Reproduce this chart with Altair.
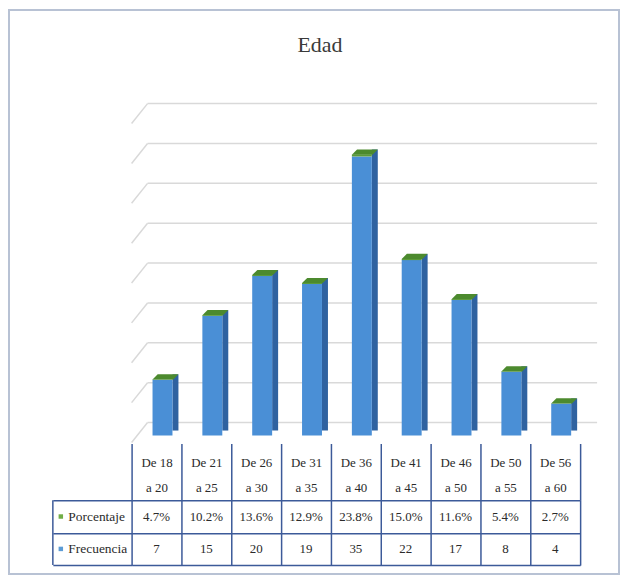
import altair as alt
import pandas as pd

categorias = ["De 18 a 20", "De 21 a 25", "De 26 a 30", "De 31 a 35", "De 36 a 40",
              "De 41 a 45", "De 46 a 50", "De 50 a 55", "De 56 a 60"]
frecuencia = [7, 15, 20, 19, 35, 22, 17, 8, 4]
porcentaje = [4.7, 10.2, 13.6, 12.9, 23.8, 15.0, 11.6, 5.4, 2.7]
filas = ["Porcentaje", "Frecuencia"]
grid_vals = [0, 5, 10, 15, 20, 25, 30, 35, 40]

BLUE = "#4A8FD6"
BLUE_SIDE = "#2F62A0"
GREEN = "#5B9B3A"
GREEN_TOP = "#4C8A2E"
LINE = "#3C5A99"
GRID = "#D9D9D9"
SERIF = "Liberation Serif"
TXT = "#2B2B2B"

df = pd.DataFrame({"cat": categorias, "frec": frecuencia, "pct": porcentaje})
df["pct_frac"] = df["pct"] / 100.0
df["top"] = df["frec"] + df["pct_frac"]

grid_df = pd.DataFrame({"v": grid_vals})

xsc = alt.Scale(domain=categorias, paddingInner=0, paddingOuter=0)
ysc = alt.Scale(domain=[0, 40], nice=False, zero=True)

x_axis = alt.Axis(orient="bottom", offset=8, domain=False, grid=False,
                  tickBand="extent", tickSize=57, tickColor=LINE, tickWidth=1.5,
                  labelExpr="[substring(datum.label, 0, 5), substring(datum.label, 6)]",
                  labelFont=SERIF, labelFontSize=13, labelColor=TXT,
                  labelPadding=-43.5, labelLineHeight=25, labelAngle=0,
                  labelBaseline="top", title=None)
X = alt.X("cat:N", scale=xsc, sort=categorias, axis=x_axis)

one = pd.DataFrame({"a": [0]})

frame = alt.Chart(one).mark_rect(fill="transparent", stroke="#B8C2D4", strokeWidth=2).encode(
    x=alt.value(-123), x2=alt.value(489), y=alt.value(-107), y2=alt.value(459))

grid_h = alt.Chart(grid_df).mark_rule(color=GRID, strokeWidth=1.5, yOffset=-13).encode(
    x=alt.value(16), x2=alt.value(467), y=alt.Y("v:Q", scale=ysc, axis=None))

grid_d = alt.Chart(grid_df).mark_rule(color=GRID, strokeWidth=1.5, yOffset=7, y2Offset=-13).encode(
    x=alt.value(0), x2=alt.value(16), y=alt.Y("v:Q", scale=ysc, axis=None), y2="v:Q")

side = alt.Chart(df).mark_bar(size=6, xOffset=19, yOffset=-5, y2Offset=-5, color=BLUE_SIDE).encode(
    x=X, y=alt.Y("top:Q", scale=ysc, axis=None), y2=alt.datum(0))

front = alt.Chart(df).mark_bar(size=20, xOffset=6, color=BLUE).encode(
    x=X, y=alt.Y("frec:Q", scale=ysc, axis=None), y2=alt.datum(0))

front_g = alt.Chart(df).mark_bar(size=20, xOffset=6, color=GREEN).encode(
    x=X, y=alt.Y("top:Q", scale=ysc, axis=None), y2="frec:Q")

top_face = alt.Chart(df).mark_point(
    shape="M -1 0.2 L 0.6 0.2 L 1 -0.2 L -0.6 -0.2 Z", filled=True, size=676,
    color=GREEN_TOP, opacity=1, xOffset=9, yOffset=-2.5).encode(
    x=X, y=alt.Y("top:Q", scale=ysc, axis=None))

title = alt.Chart(one).mark_text(text="Edad", font=SERIF, fontSize=22, color="#3A3A3A",
                                 align="center", baseline="middle").encode(
    x=alt.value(189), y=alt.value(-72))

chart_a = alt.layer(frame, grid_h, grid_d, side, front, front_g, top_face, title).properties(
    width=450, height=320)

# table body
rows = []
for c, f, p in zip(categorias, frecuencia, porcentaje):
    rows.append({"cat": c, "fila": "Porcentaje", "texto": f"{p:.1f}%"})
    rows.append({"cat": c, "fila": "Frecuencia", "texto": str(f)})
tab = pd.DataFrame(rows)

X_b = alt.X("cat:N", scale=xsc, sort=categorias,
            axis=alt.Axis(labels=False, ticks=False, domain=False, grid=True,
                          gridColor=LINE, gridWidth=1.5, tickBand="extent", title=None))
Y_b = alt.Y("fila:N", scale=alt.Scale(domain=filas, paddingInner=0, paddingOuter=0), sort=filas,
            axis=alt.Axis(domain=False, grid=True, gridColor=LINE, gridWidth=1.5,
                          tickBand="extent", tickSize=79, tickColor=LINE, tickWidth=1.5,
                          labelAlign="left", labelPadding=-15, labelFont=SERIF,
                          labelFontSize=13.5, labelColor=TXT, labelBaseline="middle",
                          title=None))

txt = alt.Chart(tab).mark_text(font=SERIF, fontSize=13, color=TXT).encode(
    x=X_b, y=Y_b, text="texto:N")

leg = alt.Chart(pd.DataFrame({"fila": filas})).mark_square(size=20, opacity=1, filled=True).encode(
    x=alt.value(-71), y=Y_b,
    color=alt.Color("fila:N", scale=alt.Scale(domain=filas, range=["#70AD47", "#5B9BD5"]), legend=None))

left_border = alt.Chart(one).mark_rule(color=LINE, strokeWidth=1.5).encode(
    x=alt.value(-79), y=alt.value(0), y2=alt.value(65))

chart_b = alt.layer(left_border, txt, leg).properties(width=450, height=65)

chart = alt.vconcat(chart_a, chart_b, spacing=65, bounds="flush").properties(
    padding=0, background="white").configure_view(stroke=None)

chart.save("out.html", embed_options={"renderer": "svg", "actions": False})
